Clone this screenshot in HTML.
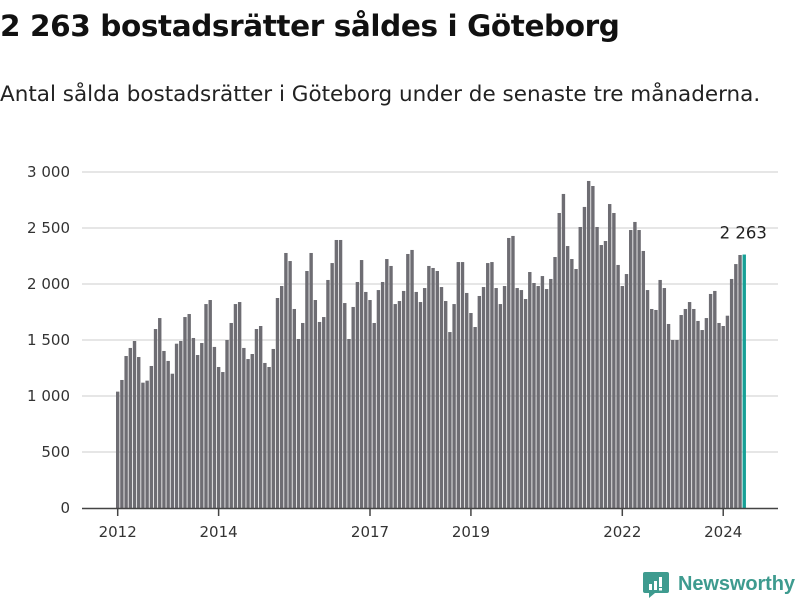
<!DOCTYPE html>
<html><head><meta charset="utf-8">
<style>
body{margin:0;width:800px;height:600px;background:#fff;overflow:hidden;font-family:"DejaVu Sans","Liberation Sans",sans-serif;}
#title{position:absolute;left:0;top:9px;font-size:29.5px;font-weight:bold;color:#111;white-space:nowrap;letter-spacing:-0.4px;}
#sub{position:absolute;left:0;top:82px;font-size:21.5px;color:#222;white-space:nowrap;letter-spacing:0px;}
svg{position:absolute;left:0;top:0;}
</style></head><body>
<div id="title">2 263 bostadsrätter såldes i Göteborg</div>
<div id="sub">Antal sålda bostadsrätter i Göteborg under de senaste tre månaderna.</div>
<svg id="chart" width="800" height="600"></svg>
<script>
const startYear = 2012;
const values = [
1039,1143,1357,1429,1491,1348,1119,1137,1268,1598,1696,1402,
1313,1199,1467,1491,1705,1732,1518,1366,1473,1821,1857,1438,
1259,1214,1500,1652,1821,1839,1429,1330,1375,1598,1625,1295,
1259,1420,1875,1982,2277,2205,1777,1509,1652,2116,2277,1857,
1661,1705,2036,2187,2393,2393,1830,1509,1795,2018,2214,1929,
1857,1652,1946,2018,2223,2161,1821,1848,1938,2268,2304,1929,
1839,1964,2161,2143,2116,1973,1848,1571,1821,2196,2196,1920,
1741,1616,1893,1973,2187,2196,1964,1821,1982,2411,2429,1964,
1946,1866,2107,2009,1982,2071,1955,2045,2241,2634,2804,2339,
2223,2134,2509,2688,2920,2875,2509,2348,2384,2714,2634,2170,
1982,2089,2482,2554,2482,2295,1946,1777,1768,2036,1964,1643,
1500,1500,1723,1777,1839,1777,1670,1589,1696,1911,1938,1652,
1625,1717,2045,2178,2259,2263
];
const yTicks = [0,500,1000,1500,2000,2500,3000];
const yTickLabels = ["0","500","1 000","1 500","2 000","2 500","3 000"];
const xTickYears = [2012,2014,2017,2019,2022,2024];
const highlightLabel = "2 263";

const svg = document.getElementById('chart');
const NS = 'http://www.w3.org/2000/svg';
const FONT = 'DejaVu Sans, Liberation Sans, sans-serif';
const x0 = 117.7, step = 4.205;
const y = v => 508 - v * 0.112;
const xIdx = i => x0 + i * step;
function mk(tag, attrs){const e=document.createElementNS(NS,tag);for(const k in attrs)e.setAttribute(k,attrs[k]);svg.appendChild(e);return e;}

yTicks.forEach((t,k)=>{
  if(t>0){const g=mk('line',{x1:82,x2:778,y1:y(t),y2:y(t),stroke:'#dddddd','stroke-width':1.5});
  
  }
  const l=mk('text',{x:70,y:y(t)+5,'text-anchor':'end','font-size':15,fill:'#333','font-family':FONT});
  l.textContent=yTickLabels[k];
  
  
});

values.forEach((v,i)=>{
  const last = i===values.length-1;
  const b=mk('rect',{x:xIdx(i)-1.7,y:y(v),width:3.4,height:508-y(v),fill:last?'#17a096':'#6e6d73'});
  
  
});

const ax=mk('line',{x1:82,x2:778,y1:508.5,y2:508.5,stroke:'#444','stroke-width':1.5});



xTickYears.forEach(yr=>{
  const xx=xIdx((yr-startYear)*12);
  const t=mk('line',{x1:xx,x2:xx,y1:508,y2:516,stroke:'#444','stroke-width':1.5});
  
  
  const l=mk('text',{x:xx,y:537,'text-anchor':'middle','font-size':15,fill:'#333','font-family':FONT});
  l.textContent=yr;
  
  
});

const li=values.length-1;
const vl=mk('text',{x:xIdx(li)-1,y:y(values[li])-16,'text-anchor':'middle','font-size':16.5,fill:'#222','font-family':FONT});
vl.textContent=highlightLabel;


</script>
<svg width="160" height="40" style="left:640px;top:564px">
  <path d="M5 8 h22 a2 2 0 0 1 2 2 v17 a2 2 0 0 1 -2 2 h-12 l-6 5 v-5 h-4 a2 2 0 0 1 -2 -2 v-17 a2 2 0 0 1 2 -2z" fill="#3e9b8f"/>
  <rect x="9" y="20" width="3" height="6" fill="#fff"/>
  <rect x="14" y="17" width="3" height="9" fill="#fff"/>
  <rect x="19" y="13" width="3" height="10" fill="#fff"/>
  <rect x="19" y="24" width="3" height="2.5" fill="#fff"/>
  <text x="38" y="26" font-size="20" font-weight="bold" fill="#3e9b8f" font-family="Liberation Sans, sans-serif" textLength="117">Newsworthy</text>
</svg>
</body></html>
